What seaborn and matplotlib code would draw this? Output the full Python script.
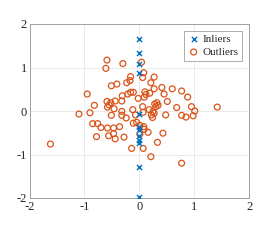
import numpy as np
import pandas as pd
import matplotlib
matplotlib.use('Agg')
import matplotlib.pyplot as plt
import seaborn as sns

inlier_x = [0, 0, 0, 0, 0, 0, 0, 0, 0, 0, 0, 0]
inlier_y = [1.65, 1.34, 1.08, 0.87, -0.07, -0.36, -0.44, -0.57, -0.67, -0.74, -1.28, -1.97]

outlier_x = [-1.62, -1.10, -0.95, -0.90, -0.82, -0.85, -0.76, -0.78, -0.70, -0.59,
             -0.61, -0.59, -0.58, -0.55, -0.52, -0.58, -0.56, -0.51, -0.51, -0.47,
             -0.47, -0.46, -0.44, -0.44, -0.41, -0.36, -0.32, -0.32, -0.32, -0.31,
             -0.30, -0.28, -0.24, -0.23, -0.21, -0.17, -0.16, -0.16, -0.12, -0.14,
             -0.11, -0.11, -0.07, -0.05, -0.02, 0.01, 0.01, 0.04, 0.06, 0.07,
             0.08, 0.06, 0.07, 0.08, 0.09, 0.09, 0.10, 0.12, 0.16, 0.18,
             0.19, 0.21, 0.21, 0.22, 0.24, 0.25, 0.27, 0.27, 0.27, 0.28,
             0.30, 0.32, 0.34, 0.33, 0.41, 0.43, 0.45, 0.48, 0.51, 0.60,
             0.68, 0.77, 0.77, 0.77, 0.85, 0.88, 0.95, 0.98, 1.01, 1.42]
outlier_y = [-0.76, -0.07, 0.39, -0.04, 0.13, -0.29, -0.29, -0.59, -0.38, 1.17,
             0.98, 0.22, 0.09, 0.14, 0.19, -0.39, -0.57, 0.58, -0.10, -0.39,
             -0.52, 0.05, 0.23, -0.64, 0.62, -0.36, -0.01, -0.10, 0.23, 0.35,
             1.09, -0.60, -0.16, 0.65, 0.39, 0.70, 0.79, 0.43, 0.03, -0.86,
             0.43, -0.28, -0.09, -0.26, 0.29, -0.33, -0.53, 1.12, 0.77, -0.86,
             0.88, 0.10, -0.03, -0.36, -0.42, 0.32, 0.44, 0.38, -0.49, 0.03,
             0.41, 0.65, -1.05, -0.09, -0.15, -0.01, -0.05, 0.78, 0.51, 0.16,
             0.10, 0.19, 0.13, -0.72, 0.54, -0.51, 0.39, -0.09, 0.22, 0.51,
             0.08, 0.46, -0.10, -1.20, -0.14, 0.32, 0.10, -0.11, 0.00, 0.09]

ticks = [-2, -1, 0, 1, 2]

sns.set_style('whitegrid')
plt.rcParams['font.family'] = ['Liberation Serif', 'DejaVu Serif']
plt.rcParams['axes.unicode_minus'] = False

fig = plt.figure(figsize=(2.69, 2.40), dpi=100)
ax = fig.add_axes([0.11, 0.175, 0.816, 0.725])

sns.scatterplot(x=inlier_x, y=inlier_y, marker='x', color='#0072BD', s=14,
                linewidth=1.0, label='Inliers', ax=ax, zorder=3)
sns.scatterplot(x=outlier_x, y=outlier_y, marker='o', facecolors='none',
                edgecolor='#D95319', s=18, linewidth=0.9, label='Outliers', ax=ax, zorder=2)

ax.set_xlim(-2, 2)
ax.set_ylim(-2, 2)
ax.set_xticks(ticks)
ax.set_yticks(ticks)
ax.set_xticklabels([str(t) for t in ticks])
ax.set_yticklabels([str(t) for t in ticks])
ax.grid(True, color='#e6e6e6', linewidth=0.6)
for sp in ax.spines.values():
    sp.set_color('#a0a0a0')
    sp.set_linewidth(0.7)
ax.tick_params(direction='in', length=2.5, width=0.6, color='#a0a0a0',
               labelsize=9, labelcolor='#262626', pad=2)

leg = ax.legend(loc='upper right', fontsize=8, frameon=True, fancybox=False,
                framealpha=1, edgecolor='#a0a0a0', handletextpad=0.3,
                handlelength=1.0, borderpad=0.35, labelspacing=0.25,
                borderaxespad=0.6)
leg.get_frame().set_linewidth(0.6)

fig.savefig('out.png', dpi=100)
